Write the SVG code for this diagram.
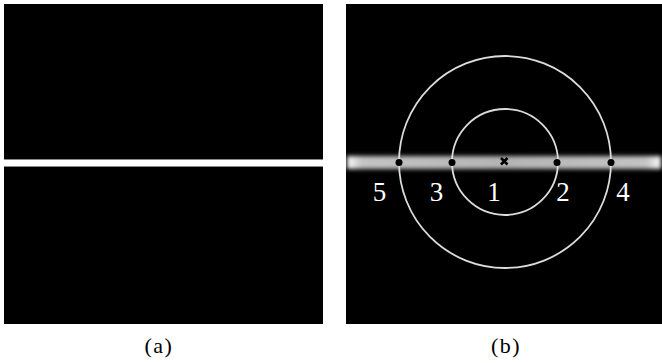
<svg xmlns="http://www.w3.org/2000/svg" width="662" height="363" viewBox="0 0 662 363">
<style>
.ring{fill:none;stroke:#dcdcdc;stroke-width:1.8}
.dot{fill:#000}
.lbl{font-family:"Liberation Serif","Times New Roman",serif;font-size:27px;fill:#fff;text-anchor:middle}
.cap{font-family:"Liberation Serif","Times New Roman",serif;font-size:22px;letter-spacing:1.5px;fill:#000;text-anchor:middle}
</style>
<defs>
<linearGradient id="band" x1="346" y1="0" x2="662" y2="0" gradientUnits="userSpaceOnUse">
<stop offset="0" stop-color="#ffffff"/>
<stop offset="0.05" stop-color="#c4c4c4"/>
<stop offset="0.5" stop-color="#b4b4b4"/>
<stop offset="0.95" stop-color="#c4c4c4"/>
<stop offset="1" stop-color="#ffffff"/>
</linearGradient>
<filter id="blur" x="-5%" y="-100%" width="110%" height="300%"><feGaussianBlur stdDeviation="2"/></filter>
</defs>
<rect width="662" height="363" fill="#fff"/>
<g id="panel-a">
<rect x="4" y="4" width="319" height="155" fill="#000"/>
<rect x="4" y="167" width="319" height="157" fill="#000"/>
<line x1="4" y1="159.5" x2="323" y2="159.5" stroke="#888" stroke-width="1"/>
<line x1="4" y1="166.5" x2="323" y2="166.5" stroke="#888" stroke-width="1"/>
</g>
<g id="panel-b">
<rect x="346" y="4" width="316" height="320" fill="#000"/>
<rect x="347" y="156" width="314" height="13" fill="url(#band)" filter="url(#blur)"/>
<circle class="ring" cx="505" cy="162" r="53"/>
<circle class="ring" cx="505" cy="162" r="106"/>
<circle class="dot" cx="399" cy="162.5" r="3.5"/>
<circle class="dot" cx="452" cy="162.5" r="3.5"/>
<circle class="dot" cx="557" cy="162.5" r="3.5"/>
<circle class="dot" cx="611" cy="162.5" r="3.5"/>
<path d="M501 158 L507.5 164.5 M507.5 158 L501 164.5" stroke="#000" stroke-width="2.6"/>
<text class="lbl" x="379.5" y="201">5</text>
<text class="lbl" x="436.5" y="201">3</text>
<text class="lbl" x="494" y="201">1</text>
<text class="lbl" x="563" y="201">2</text>
<text class="lbl" x="623" y="201">4</text>
</g>
<text class="cap" x="159" y="353">(a)</text>
<text class="cap" x="506" y="353">(b)</text>
</svg>
